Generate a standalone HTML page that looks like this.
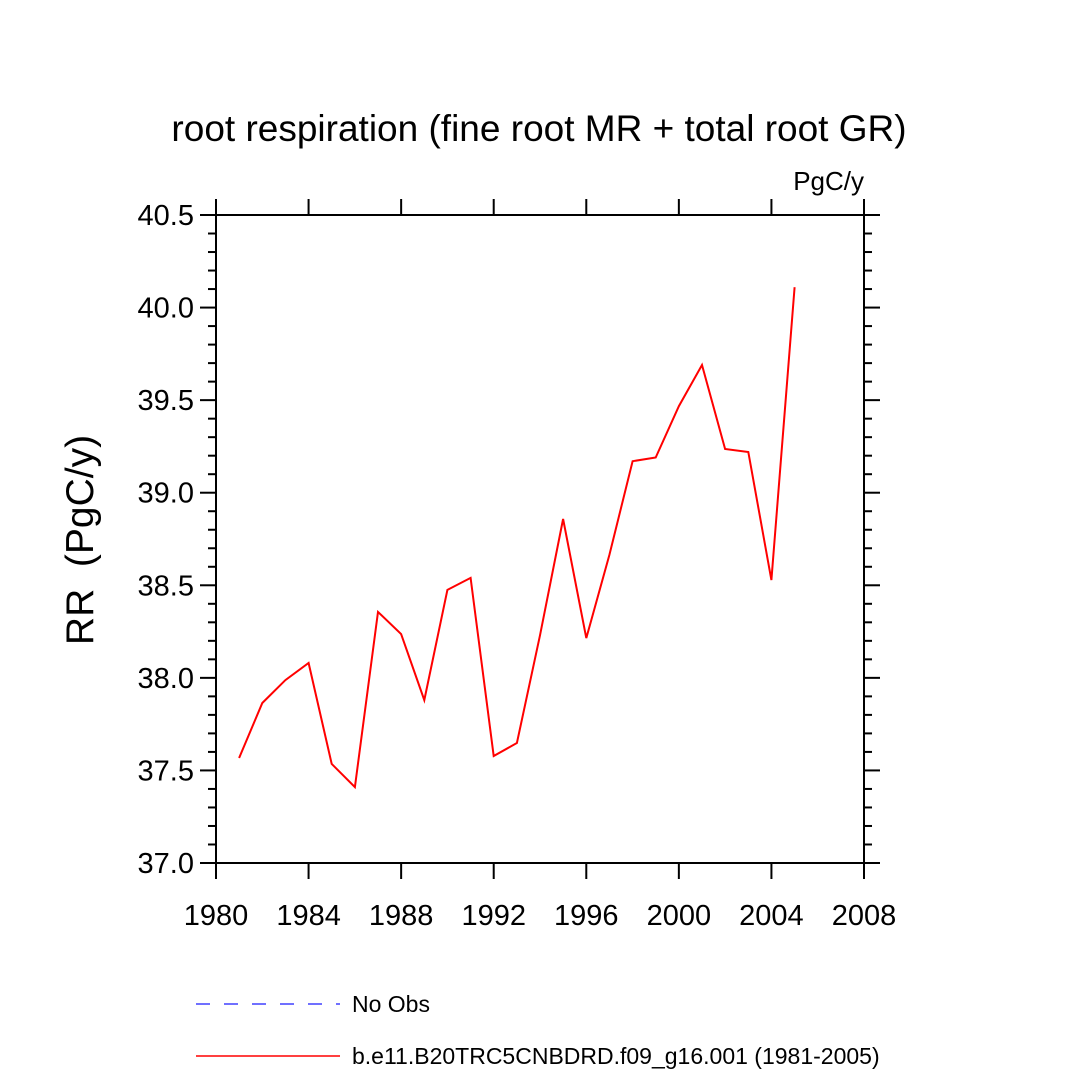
<!DOCTYPE html>
<html><head><meta charset="utf-8"><style>
html,body{margin:0;padding:0;background:#fff}
svg text{font-family:"Liberation Sans",Arial,sans-serif;fill:#000}
</style></head><body>
<svg id="chart" width="1080" height="1080" xmlns="http://www.w3.org/2000/svg">
<text x="539" y="141" font-size="37" text-anchor="middle">root respiration (fine root MR + total root GR)</text>
<text x="864" y="190" font-size="26" text-anchor="end">PgC/y</text>
<text transform="translate(93,540) rotate(-90)" font-size="39" text-anchor="middle" style="white-space:pre">RR  (PgC/y)</text>
<g id="axes"></g>
<g id="series"></g>
<g>
<line x1="196" y1="1004" x2="340" y2="1004" stroke="#4040ff" stroke-width="1.5" stroke-dasharray="14,14"/>
<text x="352" y="1012" font-size="23">No Obs</text>
<line x1="196" y1="1056" x2="340" y2="1056" stroke="#ff0000" stroke-width="1.5"/>
<text x="352" y="1064" font-size="23">b.e11.B20TRC5CNBDRD.f09_g16.001 (1981-2005)</text>
</g>
</svg>
<script>
const years=[1981,1982,1983,1984,1985,1986,1987,1988,1989,1990,1991,1992,1993,1994,1995,1996,1997,1998,1999,2000,2001,2002,2003,2004,2005];
const values=[37.567,37.864,37.988,38.08,37.535,37.41,38.356,38.237,37.88,38.475,38.54,37.578,37.648,38.23,38.858,38.215,38.664,39.17,39.19,39.468,39.69,39.236,39.22,38.528,40.11];
const xTicks=[1980,1984,1988,1992,1996,2000,2004,2008];
const yTicks=[37.0,37.5,38.0,38.5,39.0,39.5,40.0,40.5];
const X0=216,X1=864,Y0=863,Y1=215;
function xs(v){return X0+(v-1980)/(2008-1980)*(X1-X0);}
function ys(v){return Y0-(v-37)/(40.5-37)*(Y0-Y1);}
const NS="http://www.w3.org/2000/svg";
const axes=document.getElementById('axes');
function mk(tag,attrs,parent){const e=document.createElementNS(NS,tag);for(const k in attrs)e.setAttribute(k,attrs[k]);parent.appendChild(e);return e;}
const frame=mk('rect',{x:X0,y:Y1,width:X1-X0,height:Y0-Y1,fill:'none',stroke:'#000','stroke-width':2},axes);


for(let i=0;i<=35;i++){
  const v=37+i*0.1;const y=ys(v);const major=i%5===0;const L=major?16:8;
  const t1=mk('line',{x1:X0-L,y1:y,x2:X0,y2:y,stroke:'#000','stroke-width':2},axes);
  
  
  const t2=mk('line',{x1:X1,y1:y,x2:X1+L,y2:y,stroke:'#000','stroke-width':2},axes);
  
  
}
yTicks.forEach(v=>{
  const t=mk('text',{x:X0-22,y:ys(v)+10,'font-size':29,'text-anchor':'end'},axes);
  t.textContent=v.toFixed(1);
  
  
});
xTicks.forEach(v=>{
  const x=xs(v);
  const a=mk('line',{x1:x,y1:Y0,x2:x,y2:Y0+16,stroke:'#000','stroke-width':2},axes);
  
  
  const b=mk('line',{x1:x,y1:Y1-16,x2:x,y2:Y1,stroke:'#000','stroke-width':2},axes);
  
  
  const t=mk('text',{x:x,y:Y0+62,'font-size':29,'text-anchor':'middle'},axes);
  t.textContent=v;
  
  
});
const pts=years.map((y,i)=>xs(y).toFixed(1)+','+ys(values[i]).toFixed(1)).join(' ');
const line=mk('polyline',{points:pts,fill:'none',stroke:'#ff0000','stroke-width':2},document.getElementById('series'));


</script>
</body></html>
